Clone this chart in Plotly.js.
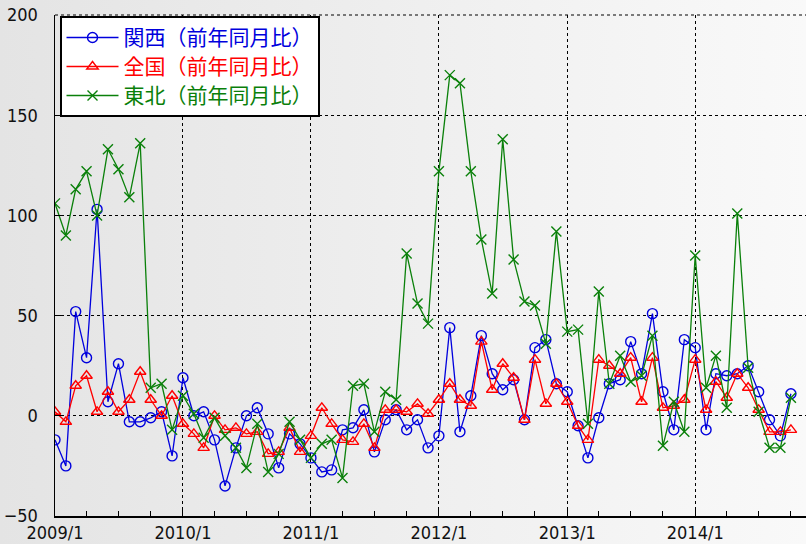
<!DOCTYPE html>
<html>
<head>
<meta charset="utf-8">
<script src="https://cdn.plot.ly/plotly-3.0.1.min.js"></script>
<style>
  html, body { margin: 0; padding: 0; }
  body { width: 806px; height: 544px; background: linear-gradient(to right, #e4e4e4, #f9f9f9); }
  #chart { width: 806px; height: 544px; }
</style>
</head>
<body>
<div id="chart"></div>
<script>
// Monthly observations, 2009/1 - 2014/10
const months = [
  '2009-01','2009-02','2009-03','2009-04','2009-05','2009-06','2009-07','2009-08','2009-09','2009-10','2009-11','2009-12',
  '2010-01','2010-02','2010-03','2010-04','2010-05','2010-06','2010-07','2010-08','2010-09','2010-10','2010-11','2010-12',
  '2011-01','2011-02','2011-03','2011-04','2011-05','2011-06','2011-07','2011-08','2011-09','2011-10','2011-11','2011-12',
  '2012-01','2012-02','2012-03','2012-04','2012-05','2012-06','2012-07','2012-08','2012-09','2012-10','2012-11','2012-12',
  '2013-01','2013-02','2013-03','2013-04','2013-05','2013-06','2013-07','2013-08','2013-09','2013-10','2013-11','2013-12',
  '2014-01','2014-02','2014-03','2014-04','2014-05','2014-06','2014-07','2014-08','2014-09','2014-10'
];

// 関西（前年同月比）
const kansai = [
  -12, -25, 52, 29, 103, 7, 26, -3, -3, -1, 2, -20,
  19, 0, 2, -12, -35, -16, 0, 4, -9, -26, -9, -14,
  -21, -28, -27, -7, -6, 3, -18, -2, 3, -7, -2, -16,
  -10, 44, -8, 10, 40, 21, 13, 18, -2, 34, 38, 16,
  12, -5, -21, -1, 16, 18, 37, 21, 51, 12, -7, 38,
  34, -7, 21, 20, 21, 25, 12, -2, -10, 11
];

// 全国（前年同月比）
const zenkoku = [
  2, -3, 15, 20, 2, 12, 2, 8, 22, 8, 0, 10,
  -4, -9, -16, 0, -7, -6, -9, -8, -19, -18, -6, -18,
  -10, 4, -4, -12, -13, -4, -16, 3, 3, 2, 6, 1,
  8, 16, 8, 5, 37, 13, 26, 19, -2, 28, 6, 16,
  7, -5, -12, 28, 25, 21, 29, 7, 29, 4, 5, 8,
  28, 3, 17, 9, 21, 14, 3, -8, -8, -7
];

// 東北（前年同月比）
const tohoku = [
  106, 90, 113, 122, 100, 133, 123, 109, 136, 14, 16, -7,
  10, 1, -11, -1, -10, -16, -26, -4, -28, -19, -3, -12,
  -21, -14, -12, -31, 15, 16, -8, 12, 8, 81, 56, 46,
  122, 170, 166, 122, 88, 61, 138, 78, 57, 55, 36, 92,
  42, 43, -4, 62, 16, 30, 17, 20, 40, -15, 7, -8,
  80, 14, 30, 4, 101, 24, 2, -16, -16, 9
];

const seriesNames = ['関西（前年同月比）', '全国（前年同月比）', '東北（前年同月比）'];
const yTicks = [-50, 0, 50, 100, 150, 200];

const BLUE = '#0000dd', RED = '#ff0000', GREEN = '#0a800a';
const tickFont = { family: 'Liberation Sans Narrow, DejaVu Sans Condensed, sans-serif', size: 18, color: '#111' };

// Legend rows are spaced by legend.font.size; the label itself is drawn slightly larger.
function series(y, name, color, symbol) {
  return {
    x: months, y: y, type: 'scatter', mode: 'lines+markers',
    name: '<span style="color:' + color + ';font-size:21px">' + name + '</span>',
    line: { color: color, width: 1.3 },
    marker: { symbol: symbol, size: 10, color: color, line: { color: color, width: 1.4 } },
    hoverinfo: 'x+y'
  };
}

const data = [
  series(kansai, seriesNames[0], BLUE, 'circle-open'),
  series(zenkoku, seriesNames[1], RED, 'triangle-up-open'),
  series(tohoku, seriesNames[2], GREEN, 'x-thin-open')
];

const xRange = ['2009-01-01', '2014-11-13'];
const yRange = [-50, 200];

const layout = {
  width: 806, height: 544,
  margin: { l: 55, r: 0, t: 15, b: 28 },
  paper_bgcolor: 'rgba(0,0,0,0)',
  plot_bgcolor: 'rgba(0,0,0,0)',
  showlegend: true,
  legend: {
    x: 0.006, y: 0.998, xanchor: 'left', yanchor: 'top',
    bgcolor: '#ffffff', bordercolor: '#000000', borderwidth: 2,
    font: { family: 'Noto Sans CJK JP, sans-serif', size: 20, color: '#000' },
    itemwidth: 52,
    tracegroupgap: 0
  },
  // dotted frame line along the top edge (y = 200)
  shapes: [{
    type: 'line', xref: 'paper', yref: 'paper', x0: 0, x1: 1, y0: 1, y1: 1,
    line: { color: '#000', width: 1, dash: 'dot' }
  }],
  xaxis: {
    type: 'date', range: xRange,
    tick0: '2009-01-01', dtick: 'M12', tickformat: '%Y/%-m',
    ticks: 'inside', ticklen: 7, tickcolor: '#000', tickwidth: 1,
    showgrid: true, gridcolor: '#000', griddash: 'dot', gridwidth: 1,
    showline: true, linecolor: '#000', linewidth: 1.5,
    zeroline: false, tickfont: tickFont,
    minor: { ticks: 'inside', dtick: 'M3', tick0: '2009-01-01', ticklen: 5, tickcolor: '#000', showgrid: false }
  },
  xaxis2: {
    type: 'date', range: xRange, overlaying: 'x', side: 'top', anchor: 'y',
    tick0: '2009-01-01', dtick: 'M12', showticklabels: false,
    ticks: 'inside', ticklen: 7, tickcolor: '#000',
    showgrid: false, showline: false, zeroline: false,
    minor: { ticks: 'inside', dtick: 'M3', tick0: '2009-01-01', ticklen: 5, tickcolor: '#000', showgrid: false }
  },
  yaxis: {
    range: yRange, tickvals: yTicks,
    ticks: 'inside', ticklen: 6, tickcolor: '#000',
    showgrid: true, gridcolor: '#000', griddash: 'dot', gridwidth: 1,
    showline: true, linecolor: '#000', linewidth: 1.5,
    zeroline: false, tickfont: tickFont, ticklabelstandoff: 12
  },
  yaxis2: {
    range: yRange, tickvals: yTicks, overlaying: 'y', side: 'right', anchor: 'x',
    ticks: 'inside', ticklen: 6, tickcolor: '#000', showticklabels: false,
    showgrid: false, showline: false, zeroline: false
  }
};

Plotly.newPlot('chart', data, layout, { displayModeBar: false, staticPlot: true });
</script>
</body>
</html>
